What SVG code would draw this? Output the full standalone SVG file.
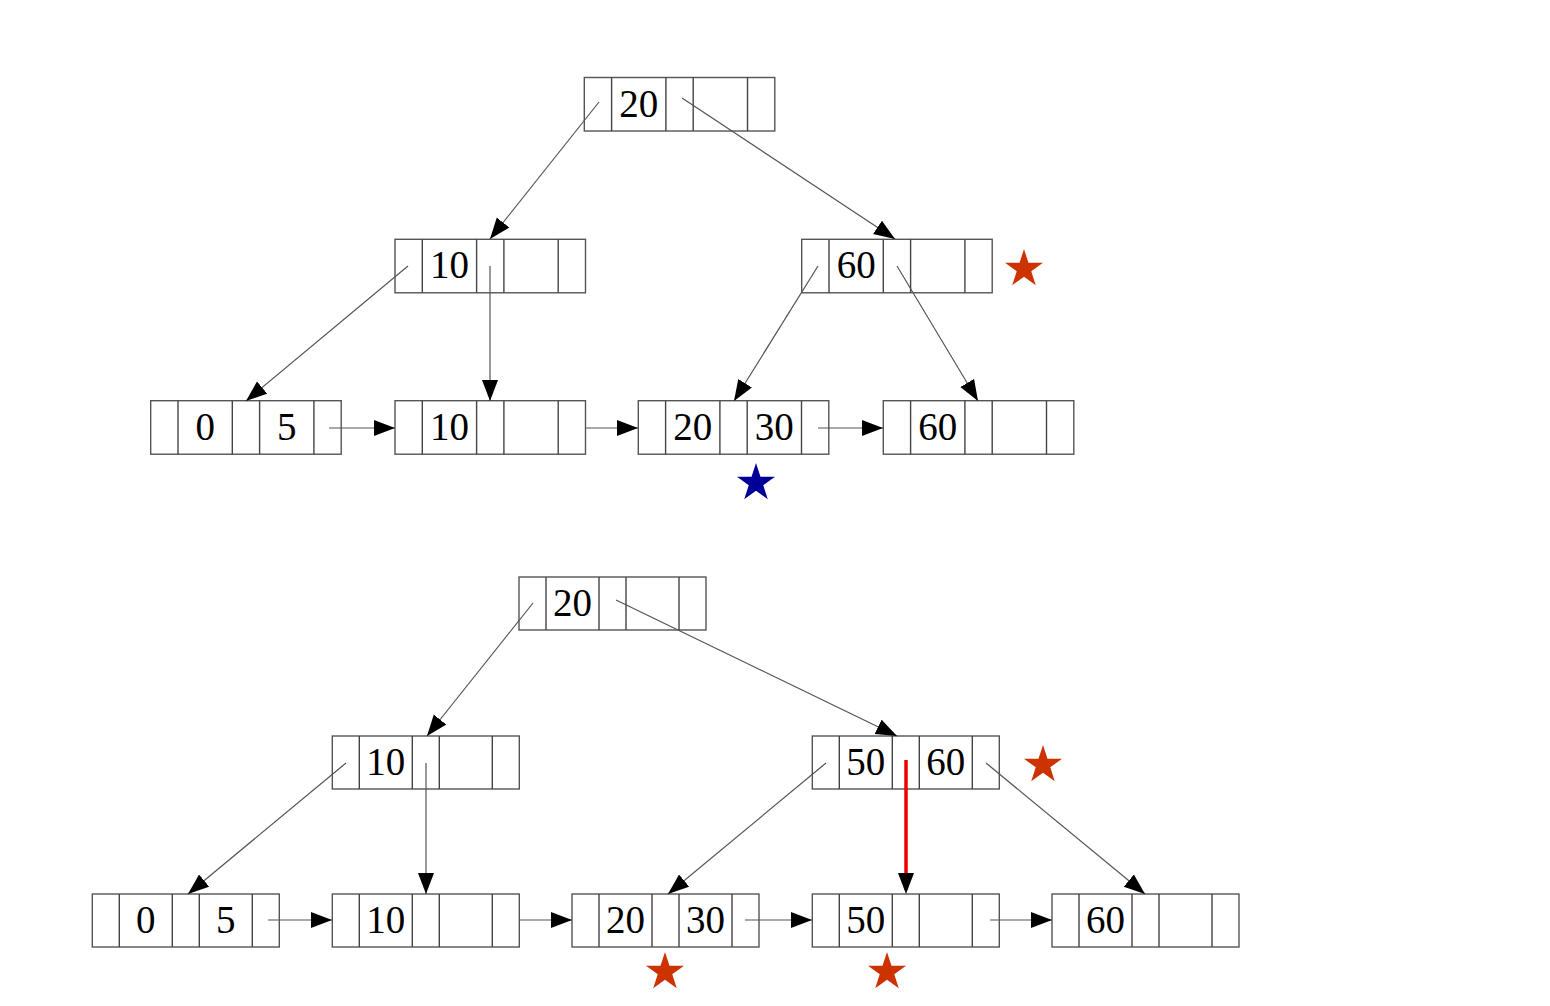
<svg xmlns="http://www.w3.org/2000/svg" width="1550" height="1006" viewBox="0 0 1550 1006">
<style>
.box{fill:#fff;stroke:#555;stroke-width:1.4}
.div{stroke:#444;stroke-width:1.4}
.k{font-family:"Liberation Serif","Times New Roman",serif;font-size:39px;fill:#000;text-anchor:middle}
.e{fill:none;stroke:#555;stroke-width:1.2}
.red{fill:none;stroke:#ee0000;stroke-width:3.5}
</style>
<defs>
<marker id="ah" markerUnits="userSpaceOnUse" markerWidth="24" markerHeight="20" refX="21" refY="8.5" orient="auto">
<path d="M0,0.5 L21,8.5 L0,16.5 Z" fill="#000"/>
</marker>
<marker id="ahr" markerUnits="userSpaceOnUse" markerWidth="24" markerHeight="20" refX="17" refY="8.5" orient="auto">
<path d="M0,0.5 L21,8.5 L0,16.5 Z" fill="#000"/>
</marker>
<path id="star" d="M0,-20 L4.49,-6.18 L19.02,-6.18 L7.27,2.36 L11.76,16.18 L0,7.64 L-11.76,16.18 L-7.27,2.36 L-19.02,-6.18 L-4.49,-6.18 Z"/>
</defs>
<rect width="1550" height="1006" fill="#fff"/>

<!-- Top diagram nodes -->
<g id="t-root" transform="translate(584.3,77.5)">
<rect class="box" width="190.5" height="53.5"/>
<path class="div" d="M27.3,0V53.5M81.6,0V53.5M108.9,0V53.5M163.2,0V53.5"/>
<text class="k" x="54.5" y="39">20</text>
</g>
<g id="t-l2a" transform="translate(395,239.3)">
<rect class="box" width="190.5" height="53.5"/>
<path class="div" d="M27.3,0V53.5M81.6,0V53.5M108.9,0V53.5M163.2,0V53.5"/>
<text class="k" x="54.5" y="39">10</text>
</g>
<g id="t-l2b" transform="translate(801.7,239.3)">
<rect class="box" width="190.5" height="53.5"/>
<path class="div" d="M27.3,0V53.5M81.6,0V53.5M108.9,0V53.5M163.2,0V53.5"/>
<text class="k" x="54.5" y="39">60</text>
</g>
<g id="t-leaf1" transform="translate(150.7,400.7)">
<rect class="box" width="190.5" height="53.5"/>
<path class="div" d="M27.3,0V53.5M81.6,0V53.5M108.9,0V53.5M163.2,0V53.5"/>
<text class="k" x="54.5" y="39">0</text>
<text class="k" x="136" y="39">5</text>
</g>
<g id="t-leaf2" transform="translate(395,400.7)">
<rect class="box" width="190.5" height="53.5"/>
<path class="div" d="M27.3,0V53.5M81.6,0V53.5M108.9,0V53.5M163.2,0V53.5"/>
<text class="k" x="54.5" y="39">10</text>
</g>
<g id="t-leaf3" transform="translate(638.3,400.7)">
<rect class="box" width="190.5" height="53.5"/>
<path class="div" d="M27.3,0V53.5M81.6,0V53.5M108.9,0V53.5M163.2,0V53.5"/>
<text class="k" x="54.5" y="39">20</text>
<text class="k" x="136" y="39">30</text>
</g>
<g id="t-leaf4" transform="translate(883.3,400.7)">
<rect class="box" width="190.5" height="53.5"/>
<path class="div" d="M27.3,0V53.5M81.6,0V53.5M108.9,0V53.5M163.2,0V53.5"/>
<text class="k" x="54.5" y="39">60</text>
</g>

<!-- Bottom diagram nodes -->
<g id="b-root" transform="translate(519,577)">
<rect class="box" width="187" height="53"/>
<path class="div" d="M27,0V53M80,0V53M107,0V53M160,0V53"/>
<text class="k" x="53.5" y="39">20</text>
</g>
<g id="b-l2a" transform="translate(332.3,736)">
<rect class="box" width="187" height="53"/>
<path class="div" d="M27,0V53M80,0V53M107,0V53M160,0V53"/>
<text class="k" x="53.5" y="39">10</text>
</g>
<g id="b-l2b" transform="translate(812.3,736)">
<rect class="box" width="187" height="53"/>
<path class="div" d="M27,0V53M80,0V53M107,0V53M160,0V53"/>
<text class="k" x="53.5" y="39">50</text>
<text class="k" x="133.5" y="39">60</text>
</g>
<g id="b-leaf1" transform="translate(92.3,894)">
<rect class="box" width="187" height="53"/>
<path class="div" d="M27,0V53M80,0V53M107,0V53M160,0V53"/>
<text class="k" x="53.5" y="39">0</text>
<text class="k" x="133.5" y="39">5</text>
</g>
<g id="b-leaf2" transform="translate(332.3,894)">
<rect class="box" width="187" height="53"/>
<path class="div" d="M27,0V53M80,0V53M107,0V53M160,0V53"/>
<text class="k" x="53.5" y="39">10</text>
</g>
<g id="b-leaf3" transform="translate(572,894)">
<rect class="box" width="187" height="53"/>
<path class="div" d="M27,0V53M80,0V53M107,0V53M160,0V53"/>
<text class="k" x="53.5" y="39">20</text>
<text class="k" x="133.5" y="39">30</text>
</g>
<g id="b-leaf4" transform="translate(812.3,894)">
<rect class="box" width="187" height="53"/>
<path class="div" d="M27,0V53M80,0V53M107,0V53M160,0V53"/>
<text class="k" x="53.5" y="39">50</text>
</g>
<g id="b-leaf5" transform="translate(1052,894)">
<rect class="box" width="187" height="53"/>
<path class="div" d="M27,0V53M80,0V53M107,0V53M160,0V53"/>
<text class="k" x="53.5" y="39">60</text>
</g>

<!-- Connectors -->
<g id="connectors">
<path class="e" marker-end="url(#ah)" d="M599,102 L490,239"/>
<path class="e" marker-end="url(#ah)" d="M682,98 L895,239"/>
<path class="e" marker-end="url(#ah)" d="M408,266 L246,401"/>
<path class="e" marker-end="url(#ah)" d="M490,266 L490,401"/>
<path class="e" marker-end="url(#ah)" d="M818,266 L734,401"/>
<path class="e" marker-end="url(#ah)" d="M897,266 L978,401"/>
<path class="e" marker-end="url(#ah)" d="M329,428 L395,428"/>
<path class="e" marker-end="url(#ah)" d="M585,428 L638,428"/>
<path class="e" marker-end="url(#ah)" d="M818,428 L883,428"/>

<path class="e" marker-end="url(#ah)" d="M533,603 L427,736"/>
<path class="e" marker-end="url(#ah)" d="M616,600 L897,736"/>
<path class="e" marker-end="url(#ah)" d="M346,763 L188,894"/>
<path class="e" marker-end="url(#ah)" d="M426,763 L426,894"/>
<path class="e" marker-end="url(#ah)" d="M826,763 L668,894"/>
<path class="red" marker-end="url(#ahr)" d="M906,760 L906,890"/>
<path class="e" marker-end="url(#ah)" d="M986,763 L1145,894"/>
<path class="e" marker-end="url(#ah)" d="M268,920 L332,920"/>
<path class="e" marker-end="url(#ah)" d="M519,920 L572,920"/>
<path class="e" marker-end="url(#ah)" d="M745,920 L812,920"/>
<path class="e" marker-end="url(#ah)" d="M990,920 L1052,920"/>
</g>

<!-- Stars -->
<g id="stars">
<use href="#star" x="1024" y="269" fill="#cc3300"/>
<use href="#star" x="756" y="483" fill="#000099"/>
<use href="#star" x="1043" y="765" fill="#cc3300"/>
<use href="#star" x="665" y="972" fill="#cc3300"/>
<use href="#star" x="887" y="972" fill="#cc3300"/>
</g>
</svg>
